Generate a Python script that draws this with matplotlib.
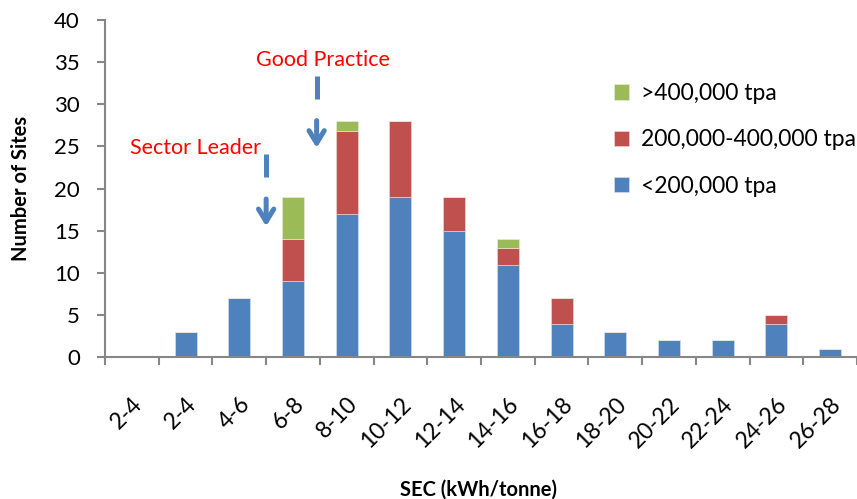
import numpy as np
import matplotlib
matplotlib.use('Agg')
import matplotlib.pyplot as plt

# Dati
categorie = ['2-4', '2-4', '4-6', '6-8', '8-10', '10-12', '12-14', '14-16',
             '16-18', '18-20', '20-22', '22-24', '24-26', '26-28']
piccoli = [0, 3, 7, 9, 17, 19, 15, 11, 4, 3, 2, 2, 4, 1]          # <200,000 tpa
medi = [0, 0, 0, 5, 9.8, 9, 4, 2, 3, 0, 0, 0, 1, 0]              # 200,000-400,000 tpa
grandi = [0, 0, 0, 5, 1.2, 0, 0, 1, 0, 0, 0, 0, 0, 0]            # >400,000 tpa
etichette_serie = ['<200,000 tpa', '200,000-400,000 tpa', '>400,000 tpa']
y_ticks = [0, 5, 10, 15, 20, 25, 30, 35, 40]

# Annotazioni (testo, x testo, y testo, x freccia, tratto, freccia)
note = [
    ('Sector Leader', 1.19, 24.8, 2.5, (21.4, 24.1), (19.1, 15.2)),
    ('Good Practice', 3.56, 35.3, 3.44, (30.6, 33.4), (28.4, 24.5)),
]

plt.rcParams['font.family'] = ['Lato', 'DejaVu Sans']

blu = '#4F81BD'
rosso = '#C0504D'
verde = '#9BBB59'
grigio = '#868686'

fig = plt.figure(figsize=(8.57, 4.99), dpi=100)
ax = fig.add_axes([105 / 857, 1 - 357.3 / 499, (857 - 105) / 857, (357.3 - 20) / 499])

x = np.arange(len(categorie))
w = 0.41
p = np.array(piccoli, dtype=float)
m = np.array(medi, dtype=float)
g = np.array(grandi, dtype=float)
b1 = ax.bar(x, p, w, color=blu, edgecolor='#dbe5f1', linewidth=0.4, label=etichette_serie[0])
b2 = ax.bar(x, m, w, bottom=p, color=rosso, edgecolor='#f2dcdb', linewidth=0.4, label=etichette_serie[1])
b3 = ax.bar(x, g, w, bottom=p + m, color=verde, edgecolor='#ebf1de', linewidth=0.4, label=etichette_serie[2])

ax.set_xlim(-0.5, (857 - 105) / 54 - 0.5)
ax.set_ylim(0, 40)

# Assi stile Excel
for s in ['top', 'right']:
    ax.spines[s].set_visible(False)
for s in ['left', 'bottom']:
    ax.spines[s].set_color(grigio)
    ax.spines[s].set_linewidth(1.5)

ax.set_yticks(y_ticks)
ax.tick_params(axis='y', direction='out', length=6, width=1.5, color=grigio,
               labelsize=16, pad=12)
ax.set_xticks(x)
ax.set_xticklabels(categorie, rotation=45, ha='right', va='top', rotation_mode='anchor')
ax.set_xticks(np.arange(len(categorie) + 1) - 0.5, minor=True)
ax.tick_params(axis='x', which='major', length=0, labelsize=16.5, pad=26)
ax.tick_params(axis='x', which='minor', direction='out', length=6, width=1.5, color=grigio)

ax.set_ylabel('Number of Sites', fontsize=14.5, fontweight='bold')
ax.yaxis.set_label_coords((31 - 105) / 752, 0.5)
ax.set_xlabel('SEC (kWh/tonne)', fontsize=14.5, fontweight='bold')
ax.xaxis.set_label_coords((478 - 105) / 752, -(480 - 357.3) / 337.3)

# Frecce e testi
for testo, xt, yt, xa, tratto, freccia in note:
    ax.text(xt, yt, testo, color='red', fontsize=15.5, ha='center', va='center')
    ax.plot([xa, xa], tratto, color=blu, lw=3.6, solid_capstyle='butt')
    ax.annotate('', xy=(xa, freccia[1]), xytext=(xa, freccia[0]),
                arrowprops=dict(arrowstyle='->,head_length=0.9,head_width=0.55',
                                color=blu, lw=3.6))

leg = ax.legend(handles=[b3, b2, b1], loc='upper left', bbox_to_anchor=((605 - 105) / 752, 1 - 54 / 337.3),
                frameon=False, fontsize=16.5, handlelength=0.65, handleheight=0.65,
                handletextpad=0.5, labelspacing=1.1, borderaxespad=0)

fig.savefig('out.png', dpi=100)
